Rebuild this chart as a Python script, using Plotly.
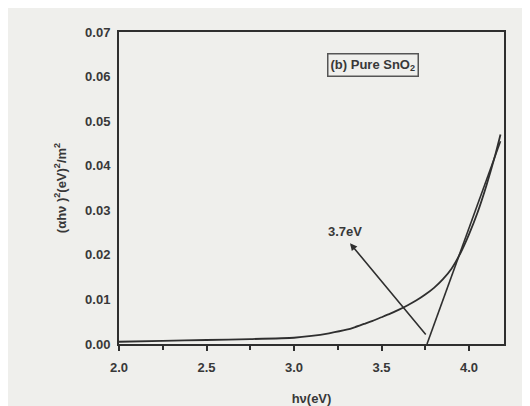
import plotly.graph_objs as go

# Tauc plot values
hv = [2.0, 2.25, 2.5, 2.75, 3.0, 3.1, 3.2, 3.3, 3.35, 3.4, 3.45, 3.5,
      3.55, 3.6, 3.65, 3.7, 3.75, 3.8, 3.85, 3.9, 3.95, 4.0, 4.05, 4.1,
      4.15, 4.18]
ahv2 = [0.0005, 0.0007, 0.0009, 0.0011, 0.0014, 0.0018, 0.0024, 0.0032,
        0.0038, 0.0045, 0.0052, 0.006, 0.0068, 0.0077, 0.0087, 0.0098,
        0.0111, 0.0126, 0.0145, 0.0169, 0.0203, 0.0246, 0.0296, 0.0356,
        0.0424, 0.047]

# tangent line extrapolated to the x axis
tangent_x = [3.76, 4.18]
tangent_y = [0.0, 0.0455]

# arrow from the intercept up to the label
arrow_tail = (3.76, 0.0018)
arrow_head = (3.32, 0.0226)
gap_label = "3.7eV"
sample_label = "(b) Pure SnO<sub>2</sub>"

x_ticks = [2.0, 2.5, 3.0, 3.5, 4.0]
y_ticks = [0.00, 0.01, 0.02, 0.03, 0.04, 0.05, 0.06, 0.07]

ink = "#2f2f2f"
txt = "#383838"
paper = "#efefec"
font_main = "Liberation Sans, Arial, sans-serif"
fs = 13

fig = go.Figure()
fig.add_trace(go.Scatter(x=hv, y=ahv2, mode="lines",
                         line=dict(color=ink, width=1.8, shape="spline", smoothing=0.5)))
fig.add_trace(go.Scatter(x=tangent_x, y=tangent_y, mode="lines",
                         line=dict(color=ink, width=1.6)))

fig.add_annotation(x=arrow_head[0], y=arrow_head[1],
                   ax=arrow_tail[0], ay=arrow_tail[1],
                   xref="x", yref="y", axref="x", ayref="y",
                   text="", showarrow=True, arrowhead=2, arrowsize=0.9,
                   arrowwidth=1.6, arrowcolor=ink)
fig.add_annotation(x=3.29, y=0.0252, xref="x", yref="y", text=gap_label,
                   showarrow=False,
                   font=dict(family=font_main, size=fs, color=txt, weight="bold"))
fig.add_annotation(x=3.45, y=0.0626, xref="x", yref="y", text=sample_label,
                   showarrow=False, bordercolor="#555", borderwidth=1.5,
                   borderpad=2,
                   font=dict(family=font_main, size=fs, color=txt, weight="bold"))

fig.update_xaxes(range=[2.0, 4.2], tickvals=x_ticks,
                 ticktext=[f"{v:.1f}" for v in x_ticks],
                 ticks="outside", ticklen=5, tickcolor=ink, tickwidth=1.5,
                 minor=dict(dtick=0.25, ticks="outside", ticklen=4,
                            tickcolor=ink, tickwidth=1.5),
                 ticklabelstandoff=5,
                 showline=True, linecolor=ink, linewidth=2, mirror=True,
                 showgrid=False, zeroline=False, automargin=False,
                 tickfont=dict(family=font_main, size=fs, color=txt, weight="bold"),
                 title=dict(text="hν(eV)", standoff=20,
                            font=dict(family=font_main, size=fs, color=txt, weight="bold")))
fig.update_yaxes(range=[0, 0.07], tickvals=y_ticks,
                 ticktext=[f"{v:.2f}" for v in y_ticks],
                 ticks="", ticklabelstandoff=4,
                 showline=True, linecolor=ink, linewidth=2, mirror=True,
                 showgrid=False, zeroline=False, automargin=False,
                 tickfont=dict(family=font_main, size=fs, color=txt, weight="bold"),
                 title=dict(text="(αhν )<sup>2</sup>(eV)<sup>2</sup>/m<sup>2</sup>",
                            standoff=16,
                            font=dict(family=font_main, size=fs, color=txt, weight="bold")))

fig.update_layout(width=530, height=406, showlegend=False,
                  margin=dict(l=111, r=34, t=24, b=70),
                  paper_bgcolor=paper, plot_bgcolor=paper)

fig.write_html("out.html")
